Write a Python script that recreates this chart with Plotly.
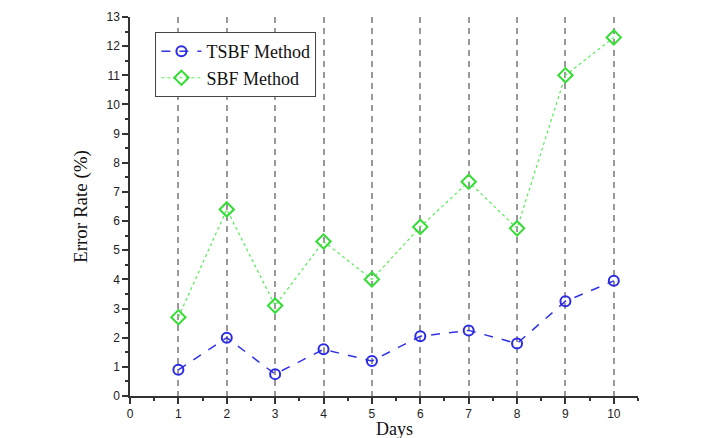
import plotly.graph_objects as go

days = [1, 2, 3, 4, 5, 6, 7, 8, 9, 10]
tsbf = [0.9, 2.0, 0.75, 1.6, 1.2, 2.05, 2.25, 1.8, 3.25, 3.95]
sbf = [2.7, 6.4, 3.1, 5.3, 4.0, 5.8, 7.35, 5.75, 11.0, 12.3]

fig = go.Figure()
fig.add_trace(go.Scatter(
    x=days, y=tsbf, name="TSBF Method", mode="lines+markers",
    line=dict(color="#3333e6", dash="dash", width=1.5),
    marker=dict(symbol="circle-open", size=10, color="#2b2be6", line=dict(width=2)),
))
fig.add_trace(go.Scatter(
    x=days, y=sbf, name="SBF Method", mode="lines+markers",
    line=dict(color="#55ee55", dash="dot", width=1.2),
    marker=dict(symbol="diamond-open", size=11, color="#33dd33", line=dict(width=2)),
))

axis_common = dict(
    showline=True, linecolor="#333333", linewidth=1.5,
    ticks="outside", ticklen=6, tickwidth=1.5, tickcolor="#333333",
    tickfont=dict(family="Liberation Sans, Arial", size=12, color="#222222"),
    zeroline=False, mirror=False, automargin=False,
)

fig.update_xaxes(
    range=[0, 10.5], dtick=1, tick0=0,
    showgrid=True, gridcolor="#999999", griddash="6px,5px", gridwidth=1.5,
    minor=dict(ticks="outside", ticklen=3, dtick=0.5, tick0=0, tickcolor="#333333", showgrid=False),
    **axis_common,
)
fig.update_yaxes(
    range=[0, 13], dtick=1, tick0=0, showgrid=False,
    minor=dict(ticks="outside", ticklen=3, dtick=0.5, tick0=0, tickcolor="#333333"),
    title=dict(text="Error Rate (%)", font=dict(family="Liberation Serif, Times New Roman", size=19, color="#111111"), standoff=14),
    **axis_common,
)

fig.add_annotation(
    text="Days", xref="paper", yref="paper", x=0.52, y=-0.056,
    xanchor="center", yanchor="top", showarrow=False,
    font=dict(family="Liberation Serif, Times New Roman", size=18, color="#111111"),
)

fig.update_layout(
    width=717, height=438,
    margin=dict(l=130, r=79, t=17, b=42),
    plot_bgcolor="white", paper_bgcolor="white",
    showlegend=True,
    legend=dict(
        x=0.05, y=0.96, xanchor="left", yanchor="top",
        bgcolor="white", bordercolor="#444444", borderwidth=1,
        font=dict(family="Liberation Serif, Times New Roman", size=18, color="#111111"),
        tracegroupgap=0, itemwidth=40,
    ),
)

fig.write_html("out.html")
